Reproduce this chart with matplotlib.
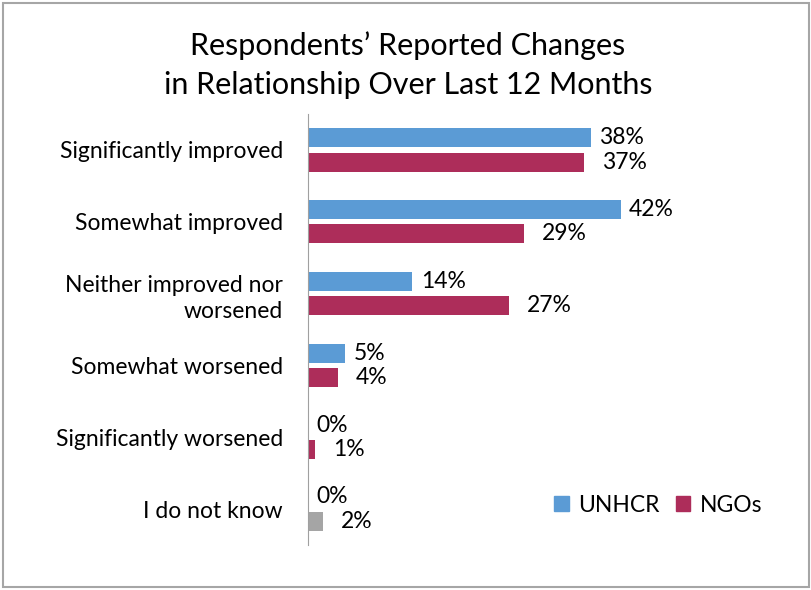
import numpy as np
import matplotlib.pyplot as plt
from matplotlib.patches import Rectangle
from matplotlib.patches import Patch

categories = ["Significantly improved", "Somewhat improved",
              "Neither improved nor\nworsened", "Somewhat worsened",
              "Significantly worsened", "I do not know"]
unhcr = [38, 42, 14, 5, 0, 0]
ngos = [37, 29, 27, 4, 1, 2]

blue = "#5B9BD5"
maroon = "#AD2D5A"
grey = "#A5A5A5"
# last NGO bar ("I do not know") is drawn grey in the original
ngo_colors = [maroon] * 5 + [grey]

plt.rcParams['font.family'] = ['Lato', 'DejaVu Sans']

fig = plt.figure(figsize=(8.12, 5.9), dpi=100)
ax = fig.add_axes([308 / 812, 45 / 590, 482 / 812, 431 / 590])

y = np.arange(len(categories))
h = 0.265
off = 0.17

b1 = ax.barh(y - off, unhcr, h, color=blue, label="UNHCR")
b2 = ax.barh(y + off, ngos, h, color=ngo_colors, label="NGOs")

ax.bar_label(b1, labels=[f"{v}%" for v in unhcr], padding=6, fontsize=16.5)
ax.bar_label(b2, labels=[f"{v}%" for v in ngos], padding=13, fontsize=16.5)

ax.set_xlim(0, 482 / 7.45)
ax.set_ylim(len(categories) - 0.5, -0.5)
ax.set_yticks(y)
ax.set_yticklabels(categories, fontsize=16.5, linespacing=1.3)
ax.tick_params(axis='y', length=0, pad=18)
ax.set_xticks([])
for s in ["top", "right", "bottom"]:
    ax.spines[s].set_visible(False)
ax.spines["left"].set_color("#A0A0A0")

ax.legend(handles=[Patch(color=blue, label="UNHCR"), Patch(color=maroon, label="NGOs")],
          loc="lower right", bbox_to_anchor=(0.985, 0.02), ncol=2, frameon=False,
          fontsize=16.5, handlelength=0.65, handleheight=0.65, handletextpad=0.4,
          columnspacing=0.7)

fig.text(408 / 812, 1 - 65 / 590, "Respondents’ Reported Changes\nin Relationship Over Last 12 Months",
         ha="center", va="center", fontsize=22, linespacing=1.5)

fig.patches.append(Rectangle((3 / 812, 3 / 590), 806 / 812, 584 / 590,
                             transform=fig.transFigure, fill=False,
                             edgecolor="#A6A6A6", linewidth=1.5))

fig.savefig("out.png", dpi=100)
